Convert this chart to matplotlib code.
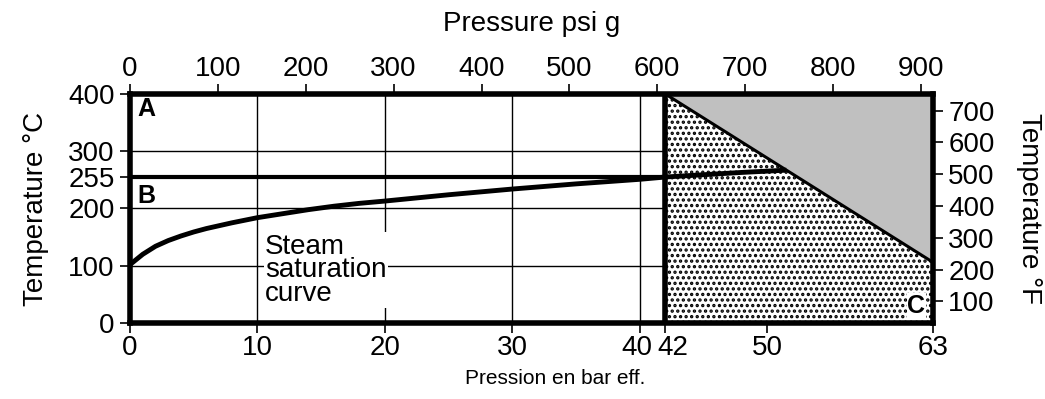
import matplotlib as mp
import matplotlib.pyplot as plt
import matplotlib.transforms as mtrans
import numpy as np

# steam saturation curve (bar g -> deg C)
curve_bar = [0, 1, 2, 3, 4, 5, 6, 8, 10, 12, 14, 16, 18, 20, 25, 30, 35, 40, 42, 45, 48, 51.5]
curve_temp = [102, 120, 134, 144, 152, 159, 165, 175, 184, 191, 198, 204, 209, 213, 224, 234, 243, 251, 255, 259, 263, 267]

bar_ticks = [0, 10, 20, 30, 40, 42, 50, 63]
psi_ticks = [0, 100, 200, 300, 400, 500, 600, 700, 800, 900]
temp_ticks = [0, 100, 200, 255, 300, 400]
degf_ticks = [100, 200, 300, 400, 500, 600, 700]
grid_bar = [10, 20, 30, 40]
grid_temp = [100, 200, 300]

p_limit = 42        # bar
t_limit = 255       # deg C
diag_bar = [42, 63]
diag_temp = [400, 106]
p_max = 63
t_max = 400

mp.rcParams['font.family'] = ['Liberation Sans', 'DejaVu Sans']
mp.rcParams['hatch.linewidth'] = 1.6

fs = 20

fig = plt.figure(figsize=(10.45, 3.99), dpi=100)
ax = fig.add_axes([0.1244, 0.1905, 0.7684, 0.5739])
ax.set_xlim(0, p_max)
ax.set_ylim(0, t_max)

# grid, left part only
for b in grid_bar:
    ax.plot([b, b], [0, t_max], color='black', lw=1.0, zorder=1)
for t in grid_temp:
    ax.plot([0, p_limit], [t, t], color='black', lw=1.0, zorder=1)

# region C: dotted below diagonal, grey above
xs = np.array(diag_bar)
ax.fill_between(xs, 0, diag_temp, facecolor='white', edgecolor='black', hatch='...', lw=0, zorder=2)
ax.fill_between(xs, diag_temp, t_max, facecolor='#c0c0c0', lw=0, zorder=2)
ax.plot(diag_bar, diag_temp, color='black', lw=2.2, zorder=4)

# B limit & curve
ax.plot([0, p_limit], [t_limit, t_limit], color='black', lw=3, zorder=4)
ax.plot(curve_bar, curve_temp, color='black', lw=3.5, zorder=4, solid_capstyle='butt')
ax.axvline(p_limit, color='black', lw=4, zorder=5)

for s in ax.spines.values():
    s.set_linewidth(4)
    s.set_zorder(6)

ax.text(10.6, 92, 'Steam\nsaturation\ncurve', fontsize=fs, va='center', ha='left',
        linespacing=0.88, zorder=3,
        bbox=dict(facecolor='white', edgecolor='none', pad=1))
ax.text(0.6, 373, 'A', fontsize=18, fontweight='bold', va='center', ha='left', zorder=7)
ax.text(0.6, 222, 'B', fontsize=18, fontweight='bold', va='center', ha='left', zorder=7)
ax.text(62.4, 30, 'C', fontsize=18, fontweight='bold', va='center', ha='right', zorder=7,
        bbox=dict(facecolor='white', edgecolor='none', pad=0.5))

ax.set_xticks(bar_ticks)
ax.set_yticks(temp_ticks)
ax.tick_params(axis='x', labelsize=fs, length=7, width=1.2, direction='out', pad=2)
ax.tick_params(axis='y', labelsize=fs, length=7, width=1.2, direction='out', pad=4)
ax.set_xlabel('Pression en bar eff.', fontsize=15)
ax.set_ylabel('Temperature °C', fontsize=fs, labelpad=14)
ax.xaxis.set_label_coords(0.529, -0.2)

# nudge the crowded 40 / 42 labels apart
for lab, tick in zip(ax.get_xticklabels(), bar_ticks):
    if tick == 40:
        lab.set_transform(lab.get_transform() + mtrans.ScaledTranslation(-3 / 100, 0, fig.dpi_scale_trans))
    elif tick == 42:
        lab.set_transform(lab.get_transform() + mtrans.ScaledTranslation(7 / 100, 0, fig.dpi_scale_trans))

top = ax.secondary_xaxis('top', functions=(lambda b: b * 14.5038, lambda p: p / 14.5038))
top.set_xticks(psi_ticks)
top.tick_params(labelsize=fs, length=7, width=1.2, pad=2)
top.set_xlabel('Pressure psi g', fontsize=fs, labelpad=18)
top.spines['top'].set_visible(False)

right = ax.secondary_yaxis('right', functions=(lambda c: c * 9 / 5 + 32, lambda f: (f - 32) * 5 / 9))
right.set_yticks(degf_ticks)
right.tick_params(labelsize=fs, length=7, width=1.2, pad=4)
right.set_ylabel('Temperature °F', fontsize=fs, rotation=270, labelpad=34)
right.spines['right'].set_visible(False)

fig.savefig('out.png', dpi=100, facecolor='white')
